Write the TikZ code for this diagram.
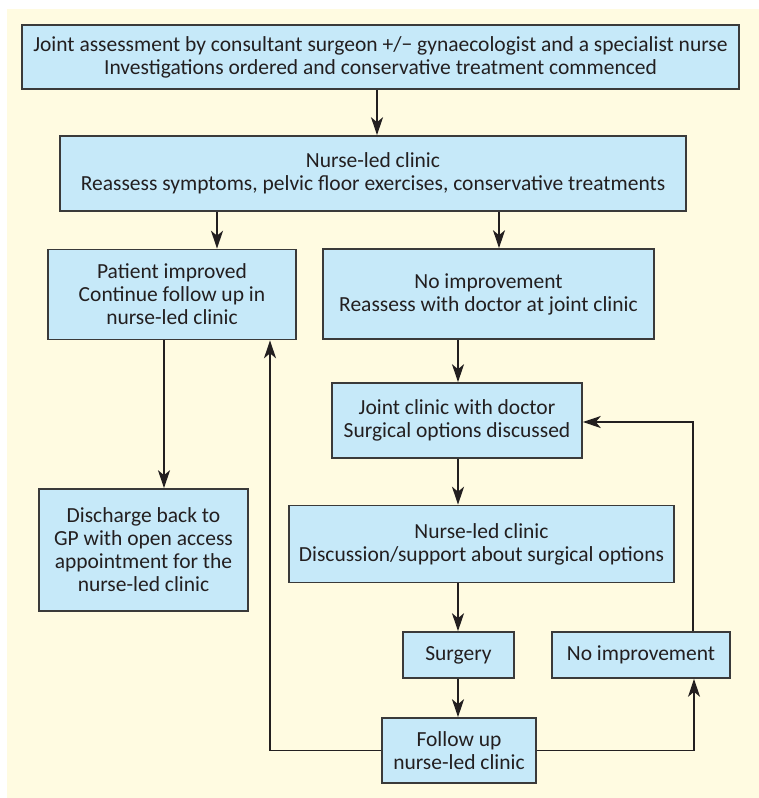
\documentclass[tikz,border=0pt]{standalone}
\usepackage{fontspec}
\setmainfont{Carlito}
\usetikzlibrary{arrows.meta}
\definecolor{flowInk}{HTML}{231F20}
\definecolor{flowEdge}{HTML}{3A3A3A}
\definecolor{flowBlue}{HTML}{C6E9F9}
\definecolor{flowCream}{HTML}{FFFBE1}
\tikzset{
  every picture/.style={font=\fontsize{21.5}{23}\selectfont, text=flowInk},
  flow box/.style={draw=flowEdge, line width=1.6pt, fill=flowBlue,
    align=center, inner sep=0pt},
  flow arrow/.style={-{Stealth[length=18pt,width=12pt,inset=5pt]},
    draw=flowInk, line width=1.3pt},
  flow line/.style={draw=flowInk, line width=1.3pt}
}
\begin{document}
\begin{tikzpicture}[x=1pt,y=-1pt]
  \useasboundingbox (0,0) rectangle (759,798);
  \fill[flowCream] (7,9) rectangle (759,798);
  \node[flow box, minimum width=717pt, minimum height=64pt] (assess) at (380.5,57)
    {Joint assessment by consultant surgeon +/− gynaecologist and a specialist nurse\\
     Investigations ordered and conservative treatment commenced};
  \node[flow box, minimum width=626pt, minimum height=75pt] (nurse) at (373,173.5)
    {Nurse-led clinic\\ Reassess symptoms, pelvic floor exercises, conservative treatments};
  \node[flow box, minimum width=248pt, minimum height=90pt] (improved) at (172,294.5)
    {Patient improved\\ Continue follow up in\\ nurse-led clinic};
  \node[flow box, minimum width=331pt, minimum height=90pt] (reassess) at (488.5,294)
    {No improvement\\ Reassess with doctor at joint clinic};
  \node[flow box, minimum width=250pt, minimum height=75pt] (joint) at (457,420.5)
    {Joint clinic with doctor\\ Surgical options discussed};
  \node[flow box, minimum width=209pt, minimum height=122pt] (discharge) at (143.5,550)
    {Discharge back to\\ GP with open access\\ appointment for the\\ nurse-led clinic};
  \node[flow box, minimum width=385pt, minimum height=77pt] (discuss) at (481.5,544)
    {Nurse-led clinic\\ Discussion/support about surgical options};
  \node[flow box, minimum width=111pt, minimum height=46pt] (surgery) at (458.5,655)
    {Surgery};
  \node[flow box, minimum width=178pt, minimum height=46pt] (noimp) at (641,655)
    {No improvement};
  \node[flow box, minimum width=154pt, minimum height=65pt] (follow) at (459,750.5)
    {Follow up\\ nurse-led clinic};
  \draw[flow arrow] (assess.south -| 377,0) -- (nurse.north -| 377,0);
  \draw[flow arrow] (nurse.south -| 217,0) -- (improved.north -| 217,0);
  \draw[flow arrow] (nurse.south -| 499,0) -- (reassess.north -| 499,0);
  \draw[flow arrow] (improved.south -| 164,0) -- (discharge.north -| 164,0);
  \draw[flow arrow] (reassess.south -| 458,0) -- (joint.north -| 458,0);
  \draw[flow arrow] (joint.south -| 458,0) -- (discuss.north -| 458,0);
  \draw[flow arrow] (discuss.south -| 458,0) -- (surgery.north -| 458,0);
  \draw[flow arrow] (surgery.south -| 458,0) -- (follow.north -| 458,0);
  \draw[flow arrow] (follow.west) -| (improved.south -| 270,0);
  \draw[flow arrow] (follow.east) -| (noimp.south -| 694,0);
  \draw[flow arrow] (noimp.north -| 693,0) |- (joint.east |- 0,422);
\end{tikzpicture}
\end{document}
